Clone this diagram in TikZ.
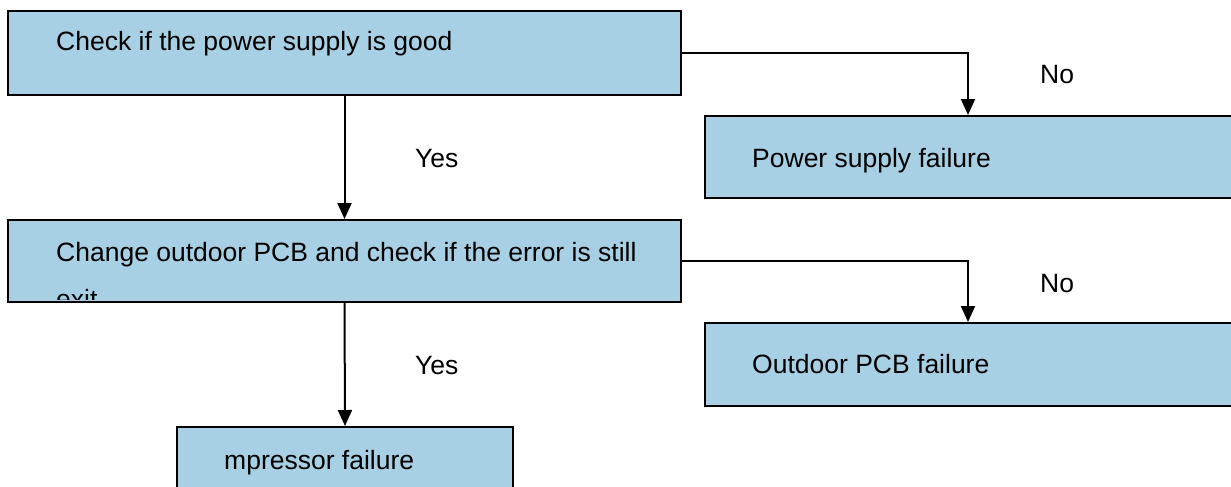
\documentclass[tikz,border=0pt]{standalone}
\usepackage{fontspec}
\setmainfont{Liberation Sans}
\usetikzlibrary{arrows.meta}
\definecolor{boxblue}{RGB}{168,208,228}
\begin{document}
\begin{tikzpicture}[x=1pt,y=-1pt,
  box/.style={draw=black, fill=boxblue, line width=2pt, anchor=north west, inner sep=0pt},
  txt/.style={anchor=base west, inner sep=0pt, font=\fontsize{26.5pt}{32pt}\selectfont},
  arr/.style={line width=2pt, -{Triangle[width=14pt,length=16pt]}}]
\useasboundingbox (0,0) rectangle (1231,487);
\clip (0,0) rectangle (1231,487);
% boxes
\node[box, minimum width=673pt, minimum height=84pt] (b1) at (7,10) {};
\node[box, minimum width=673pt, minimum height=82pt] (b2) at (7,219) {};
\node[box, minimum width=540pt, minimum height=82pt] (b3) at (704,115) {};
\node[box, minimum width=540pt, minimum height=83pt] (b4) at (704,322) {};
\node[box, minimum width=336pt, minimum height=80pt] (b5) at (176,426) {};
% texts
\node[txt] (t1) at (56,51) {Check if the power supply is good};
\begin{scope}
  \clip (8,220) rectangle (679,299);
  \node[txt] (t2a) at (56,261) {Change outdoor PCB and check if the error is still};
  \node[txt] (t2b) at (56,308) {exit};
\end{scope}
\node[txt] (t3) at (752,167) {Power supply failure};
\node[txt] (t4) at (752,373) {Outdoor PCB failure};
\node[txt] (t5) at (224,469) {mpressor failure};
% labels
\node[txt] (y1) at (415,167) {Yes};
\node[txt] (y2) at (415,374) {Yes};
\node[txt] (n1) at (1040,84) {No};
\node[txt] (n2) at (1040,292) {No};
% connectors
\coordinate (nx) at (968,0);
\draw[arr] (b1.south) -- (b2.north);
\draw[arr] (b2.south) -- (b5.north);
\draw[arr] (b1.east) -| (b3.north west -| nx);
\draw[arr] (b2.east) -| (b4.north west -| nx);
\end{tikzpicture}
\end{document}
